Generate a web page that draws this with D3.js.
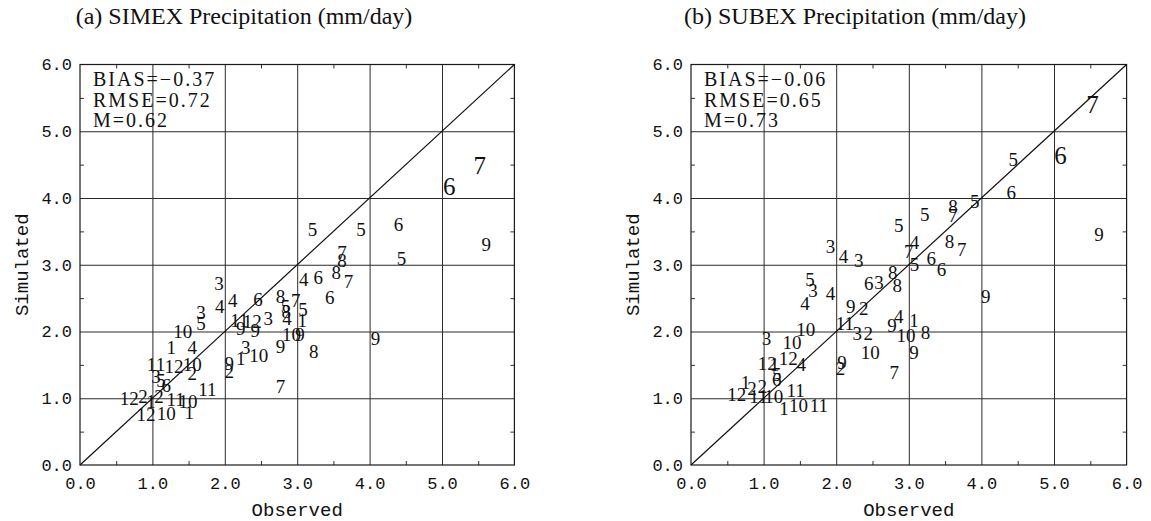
<!DOCTYPE html>
<html><head><meta charset="utf-8">
<script src="https://cdn.jsdelivr.net/npm/d3@7"></script>
<style>
html,body{margin:0;padding:0;background:#fff;}
svg{display:block;}
</style></head>
<body>
<svg id="chart" width="1151" height="521"></svg>
<script>
// ---------- DATA ----------
const panelTitles = ["(a) SIMEX Precipitation (mm/day)", "(b) SUBEX Precipitation (mm/day)"];
const statLines = [["BIAS=\u22120.37","RMSE=0.72","M=0.62"],["BIAS=\u22120.06","RMSE=0.65","M=0.73"]];
const tickValues = [0,1,2,3,4,5,6];
const xLabel = "Observed";
const yLabel = "Simulated";

// panel (a): month label, observed, simulated
const monthA = [5,5,6,6,7,9,5,7,8,4,6,8,7,6,3,4,4,6,8,5,8,4,7,5,1,11,12,3,9,9,9,10,9,3,10,1,9,2,8,7,9,11,10,4,10,2,3,5,10,1,11,12,3,5,6,12,2,2,11,12,10,1,1];
const obsA   = [3.21,3.88,4.40,5.10,5.52,5.61,4.44,3.62,3.62,3.09,3.29,3.54,3.71,3.45,1.92,2.11,1.93,2.46,2.77,2.84,2.85,2.86,2.98,3.08,3.07,2.20,2.38,2.60,2.22,2.42,2.77,2.92,3.04,2.29,2.47,2.22,2.06,2.06,3.23,2.77,4.08,1.76,1.49,1.55,1.55,1.55,1.67,1.67,1.42,1.26,1.05,1.30,1.05,1.12,1.19,0.68,0.87,1.09,1.32,0.91,1.19,1.51,0.98];
const simA   = [3.53,3.53,3.61,4.17,4.48,3.30,3.09,3.18,3.06,2.78,2.81,2.89,2.75,2.51,2.72,2.47,2.37,2.48,2.52,2.38,2.30,2.20,2.46,2.33,2.17,2.17,2.15,2.20,2.05,2.02,1.78,1.96,1.95,1.76,1.64,1.60,1.52,1.40,1.70,1.18,1.90,1.13,0.95,1.76,1.50,1.37,2.29,2.12,2.00,1.76,1.50,1.48,1.33,1.27,1.19,1.00,1.02,1.03,0.98,0.75,0.77,0.78,0.95];

// panel (b)
const monthB = [7,6,5,6,5,5,8,7,9,8,7,4,7,5,6,6,5,3,4,3,8,8,6,3,4,5,3,4,9,2,11,3,2,10,9,4,1,10,8,9,7,9,2,9,10,3,10,12,4,12,1,5,6,1,12,2,2,11,10,11,1,10,11];
const obsB   = [5.53,5.09,4.44,4.41,3.91,3.22,3.61,3.61,5.62,3.56,3.73,3.08,3.00,3.08,3.31,3.45,2.86,1.92,2.10,2.31,2.78,2.84,2.45,2.59,1.92,1.64,1.68,1.57,2.20,2.38,2.12,2.29,2.44,2.47,2.77,2.86,3.07,2.96,3.23,3.07,2.80,2.08,2.06,4.06,1.58,1.04,1.39,1.34,1.52,1.05,1.15,1.18,1.18,0.75,0.63,0.84,0.98,0.93,1.14,1.44,1.28,1.48,1.76];
const simB   = [5.40,4.63,4.58,4.08,3.95,3.75,3.88,3.74,3.45,3.35,3.23,3.33,3.20,3.00,3.10,2.93,3.59,3.27,3.13,3.07,2.89,2.69,2.72,2.74,2.57,2.78,2.61,2.42,2.37,2.34,2.12,1.97,1.97,1.69,2.09,2.22,2.17,1.94,1.99,1.69,1.39,1.54,1.44,2.52,2.03,1.89,1.84,1.60,1.50,1.52,1.50,1.36,1.28,1.24,1.05,1.14,1.17,1.02,1.02,1.12,0.84,0.89,0.89];

// ---------- STYLE / LAYOUT ----------
const emphasized = [[3,4],[0,1]];   // indices drawn with a larger glyph
const layout = {top:64.5, bottom:465, panels:[{x0:80,x1:514.4},{x0:691,x1:1126.6}]};
const svg = d3.select("#chart");
const serif = "'Liberation Serif','Times New Roman',serif";
const mono = "'Liberation Mono','Courier New',monospace";

const datasets = [
  {m:monthA, o:obsA, s:simA},
  {m:monthB, o:obsB, s:simB}
];

layout.panels.forEach((p, pi) => {
  const x = d3.scaleLinear().domain([0,6]).range([p.x0, p.x1]);
  const y = d3.scaleLinear().domain([0,6]).range([layout.bottom, layout.top]);
  const g = svg.append("g");
  const h = layout.bottom - layout.top, w = p.x1 - p.x0;

  // gridlines
  g.append("g").attr("transform",`translate(0,${layout.bottom})`)
    .call(d3.axisBottom(x).tickValues([1,2,3,4,5]).tickSize(-h).tickFormat(""))
    .call(a=>a.select(".domain").remove())
    .selectAll("line").attr("stroke","#2a2a2a").attr("stroke-width",1);
  g.append("g").attr("transform",`translate(${p.x0},0)`)
    .call(d3.axisLeft(y).tickValues([1,2,3,4,5]).tickSize(-w).tickFormat(""))
    .call(a=>a.select(".domain").remove())
    .selectAll("line").attr("stroke","#2a2a2a").attr("stroke-width",1);

  // minor ticks (inward)
  const minor = [0.5,1.5,2.5,3.5,4.5,5.5];
  const mt = 4;
  [[d3.axisBottom(x), `translate(0,${layout.bottom})`],
   [d3.axisTop(x), `translate(0,${layout.top})`]].forEach(([ax,tr])=>{
    g.append("g").attr("transform",tr).call(ax.tickValues(minor).tickSize(-mt).tickFormat(""))
     .call(a=>a.select(".domain").remove()).selectAll("line").attr("stroke","#333");
  });
  [[d3.axisLeft(y), `translate(${p.x0},0)`],
   [d3.axisRight(y), `translate(${p.x1},0)`]].forEach(([ax,tr])=>{
    g.append("g").attr("transform",tr).call(ax.tickValues(minor).tickSize(-mt).tickFormat(""))
     .call(a=>a.select(".domain").remove()).selectAll("line").attr("stroke","#333");
  });

  // frame
  g.append("rect").attr("x",p.x0).attr("y",layout.top).attr("width",w).attr("height",h)
    .attr("fill","none").attr("stroke","#1a1a1a").attr("stroke-width",1.2);

  // 1:1 line
  g.append("line").attr("x1",x(0)).attr("y1",y(0)).attr("x2",x(6)).attr("y2",y(6))
    .attr("stroke","#111").attr("stroke-width",1.2);

  // tick labels
  const bx = g.append("g").attr("transform",`translate(0,${layout.bottom})`)
    .call(d3.axisBottom(x).tickValues(tickValues).tickSize(0).tickPadding(12).tickFormat(d3.format(".1f")));
  bx.select(".domain").remove();
  bx.selectAll("text").attr("font-family",mono).attr("font-size",17).attr("fill","#111");
  const ly = g.append("g").attr("transform",`translate(${p.x0},0)`)
    .call(d3.axisLeft(y).tickValues(tickValues).tickSize(0).tickPadding(8).tickFormat(d3.format(".1f")));
  ly.select(".domain").remove();
  ly.selectAll("text").attr("font-family",mono).attr("font-size",17).attr("fill","#111");

  // axis titles
  g.append("text").attr("x",(p.x0+p.x1)/2).attr("y",516).attr("text-anchor","middle")
    .attr("font-family",mono).attr("font-size",19).attr("fill","#111").text(xLabel);
  g.append("text").attr("transform",`translate(${p.x0-57},${(layout.top+layout.bottom)/2}) rotate(-90)`)
    .attr("text-anchor","middle").attr("dominant-baseline","central")
    .attr("font-family",mono).attr("font-size",19).attr("fill","#111").text(yLabel);

  // panel title
  g.append("text").attr("x",p.x0+164).attr("y",24).attr("text-anchor","middle")
    .attr("font-family",serif).attr("font-size",24).attr("fill","#111").text(panelTitles[pi]);

  // statistics
  g.append("g").selectAll("text").data(statLines[pi]).join("text")
    .attr("x",p.x0+13).attr("y",(d,i)=>86+i*20.7)
    .attr("font-family",serif).attr("font-size",20).attr("letter-spacing",2)
    .attr("fill","#111").text(d=>d);

  // month labels
  const ds = datasets[pi];
  const idx = d3.range(ds.m.length);
  g.append("g").selectAll("text").data(idx).join("text")
    .attr("x",i=>x(ds.o[i])).attr("y",i=>y(ds.s[i]))
    .attr("text-anchor","middle").attr("dominant-baseline","central")
    .attr("font-family",serif)
    .attr("font-size",i=>emphasized[pi].includes(i)?25:19)
    .attr("fill","#111").text(i=>ds.m[i]);
});
</script>
</body></html>
